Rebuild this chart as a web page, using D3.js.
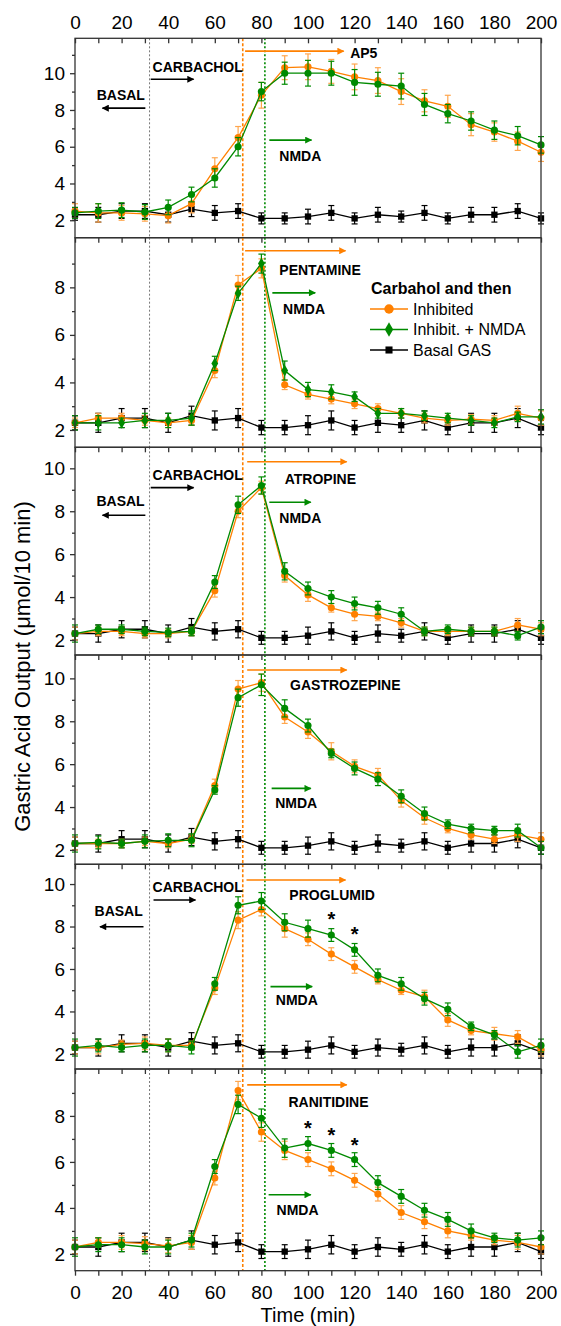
<!DOCTYPE html>
<html>
<head>
<meta charset="utf-8">
<script src="https://cdn.jsdelivr.net/npm/d3@7"></script>
<style>
    body { margin: 0; background: #fff; }
    svg { font-family: "Liberation Sans", Arial, sans-serif; }
    .axis path, .axis line { stroke: #333; stroke-width: 1.3; }
    .axis text { font-size: 19px; fill: #000; font-family: "Liberation Sans", Arial, sans-serif; }
    .ann { font-size: 14px; font-weight: bold; fill: #000; }
</style>
</head>
<body>
<svg id="gastric" width="561" height="1326"></svg>
<script>
// sampling times (min)
const times = [0, 10, 20, 30, 40, 50, 60, 70, 80, 90, 100, 110, 120, 130, 140, 150, 160, 170, 180, 190, 200];

// basal gastric acid secretion, same in every panel
const basal = [2.3, 2.3, 2.5, 2.5, 2.3, 2.6, 2.4, 2.5, 2.1, 2.1, 2.2, 2.4, 2.1, 2.3, 2.2, 2.4, 2.1, 2.3, 2.3, 2.5, 2.1];
const basalErr = [0.3, 0.4, 0.4, 0.4, 0.4, 0.4, 0.4, 0.4, 0.3, 0.3, 0.4, 0.4, 0.3, 0.4, 0.3, 0.4, 0.3, 0.4, 0.4, 0.4, 0.3];

// AP5
const ap5Inh = [2.5, 2.4, 2.4, 2.35, 2.25, 2.9, 4.8, 6.5, 8.8, 10.3, 10.35, 10.1, 9.8, 9.6, 9.0, 8.5, 8.2, 7.2, 6.8, 6.3, 5.7];
const ap5InhErr = [0.4, 0.5, 0.4, 0.4, 0.4, 0.5, 0.6, 0.6, 0.7, 0.65, 0.7, 0.65, 0.7, 0.7, 0.7, 0.6, 0.6, 0.6, 0.5, 0.5, 0.5];
const ap5Nmda = [2.4, 2.5, 2.55, 2.45, 2.7, 3.4, 4.3, 6.0, 9.0, 10.0, 10.0, 10.0, 9.5, 9.4, 9.3, 8.3, 7.8, 7.4, 6.9, 6.6, 6.1];
const ap5NmdaErr = [0.3, 0.4, 0.4, 0.4, 0.4, 0.4, 0.5, 0.5, 0.5, 0.6, 0.7, 0.65, 0.7, 0.65, 0.7, 0.6, 0.5, 0.5, 0.5, 0.5, 0.45];

// PENTAMINE
const pentInh = [2.3, 2.5, 2.5, 2.4, 2.3, 2.4, 4.5, 8.1, 8.8, 3.9, 3.5, 3.3, 3.1, 2.9, 2.7, 2.5, 2.4, 2.45, 2.4, 2.7, 2.5];
const pentInhErr = [0.2, 0.2, 0.2, 0.2, 0.2, 0.2, 0.3, 0.4, 0.4, 0.2, 0.2, 0.2, 0.2, 0.2, 0.2, 0.2, 0.2, 0.2, 0.2, 0.3, 0.3];
const pentNmda = [2.3, 2.3, 2.3, 2.4, 2.4, 2.5, 4.8, 7.75, 9.0, 4.5, 3.7, 3.6, 3.4, 2.7, 2.7, 2.6, 2.5, 2.4, 2.3, 2.55, 2.55];
const pentNmdaErr = [0.3, 0.3, 0.2, 0.3, 0.3, 0.3, 0.3, 0.3, 0.4, 0.4, 0.3, 0.3, 0.2, 0.2, 0.2, 0.2, 0.2, 0.2, 0.2, 0.2, 0.3];

// ATROPINE
const atroInh = [2.3, 2.4, 2.4, 2.3, 2.3, 2.4, 4.3, 8.0, 9.1, 5.0, 4.1, 3.5, 3.2, 3.1, 2.8, 2.4, 2.4, 2.4, 2.4, 2.7, 2.5];
const atroInhErr = [0.3, 0.2, 0.2, 0.2, 0.2, 0.2, 0.3, 0.3, 0.3, 0.3, 0.3, 0.2, 0.3, 0.2, 0.2, 0.2, 0.2, 0.2, 0.2, 0.3, 0.3];
const atroNmda = [2.3, 2.5, 2.5, 2.4, 2.35, 2.4, 4.7, 8.3, 9.2, 5.2, 4.4, 4.0, 3.7, 3.5, 3.2, 2.4, 2.5, 2.4, 2.4, 2.2, 2.6];
const atroNmdaErr = [0.4, 0.2, 0.2, 0.2, 0.2, 0.2, 0.3, 0.4, 0.4, 0.4, 0.3, 0.3, 0.3, 0.3, 0.3, 0.2, 0.2, 0.2, 0.2, 0.2, 0.3];

// GASTROZEPINE
const gastInh = [2.3, 2.3, 2.3, 2.4, 2.3, 2.5, 5.0, 9.5, 9.8, 8.2, 7.5, 6.6, 5.9, 5.5, 4.3, 3.5, 3.0, 2.7, 2.5, 2.7, 2.5];
const gastInhErr = [0.3, 0.2, 0.2, 0.2, 0.2, 0.2, 0.3, 0.4, 0.4, 0.3, 0.3, 0.4, 0.3, 0.3, 0.3, 0.3, 0.2, 0.2, 0.2, 0.3, 0.3];
const gastNmda = [2.3, 2.35, 2.3, 2.4, 2.45, 2.45, 4.8, 9.1, 9.7, 8.6, 7.8, 6.5, 5.8, 5.3, 4.5, 3.7, 3.2, 3.0, 2.9, 2.9, 2.1];
const gastNmdaErr = [0.4, 0.3, 0.2, 0.3, 0.3, 0.3, 0.2, 0.4, 0.5, 0.4, 0.3, 0.2, 0.3, 0.3, 0.3, 0.3, 0.2, 0.2, 0.2, 0.3, 0.3];

// PROGLUMID
const progInh = [2.3, 2.3, 2.45, 2.5, 2.4, 2.4, 5.1, 8.3, 8.8, 7.9, 7.4, 6.7, 6.1, 5.5, 5.0, 4.7, 3.6, 3.1, 2.95, 2.8, 2.2];
const progInhErr = [0.3, 0.3, 0.2, 0.3, 0.3, 0.2, 0.3, 0.4, 0.3, 0.4, 0.3, 0.3, 0.3, 0.2, 0.2, 0.3, 0.3, 0.2, 0.3, 0.3, 0.3];
const progNmda = [2.3, 2.4, 2.3, 2.4, 2.4, 2.3, 5.3, 9.0, 9.2, 8.2, 7.9, 7.6, 6.9, 5.7, 5.3, 4.6, 4.1, 3.3, 2.9, 2.1, 2.4];
const progNmdaErr = [0.4, 0.3, 0.2, 0.3, 0.3, 0.3, 0.3, 0.4, 0.4, 0.4, 0.4, 0.3, 0.3, 0.3, 0.3, 0.3, 0.3, 0.2, 0.2, 0.3, 0.3];

// RANITIDINE
const raniInh = [2.3, 2.5, 2.5, 2.45, 2.35, 2.5, 5.3, 9.1, 7.3, 6.5, 6.1, 5.7, 5.2, 4.6, 3.8, 3.4, 3.0, 2.8, 2.6, 2.5, 2.3];
const raniInhErr = [0.3, 0.2, 0.3, 0.3, 0.3, 0.3, 0.3, 0.4, 0.4, 0.4, 0.3, 0.3, 0.3, 0.3, 0.3, 0.3, 0.3, 0.2, 0.2, 0.3, 0.3];
const raniNmda = [2.3, 2.4, 2.4, 2.3, 2.3, 2.6, 5.8, 8.5, 7.9, 6.6, 6.8, 6.5, 6.1, 5.1, 4.5, 3.9, 3.5, 3.0, 2.7, 2.6, 2.7];
const raniNmdaErr = [0.4, 0.3, 0.3, 0.3, 0.3, 0.3, 0.3, 0.4, 0.4, 0.4, 0.3, 0.3, 0.3, 0.3, 0.3, 0.3, 0.3, 0.3, 0.2, 0.3, 0.3];

const drugNames = ["AP5", "PENTAMINE", "ATROPINE", "GASTROZEPINE", "PROGLUMID", "RANITIDINE"];
const legendTitle = "Carbahol and then";
const legendLabels = ["Inhibited", "Inhibit. + NMDA", "Basal GAS"];
const xTicks = [0, 20, 40, 60, 80, 100, 120, 140, 160, 180, 200];
const xMinorTicks = [10, 30, 50, 70, 90, 110, 130, 150, 170, 190];
const yTicksFull = [2, 4, 6, 8, 10];
const yTicksShort = [2, 4, 6, 8];
const yMinor = [3, 5, 7, 9, 11];
// marker times (min): basal end, inhibitor start, NMDA start
const basalEnd = 32;
const inhibitorStart = 72;
const nmdaStart = 81.5;

const inhSeries = [ap5Inh, pentInh, atroInh, gastInh, progInh, raniInh];
const inhErrs = [ap5InhErr, pentInhErr, atroInhErr, gastInhErr, progInhErr, raniInhErr];
const nmdaSeries = [ap5Nmda, pentNmda, atroNmda, gastNmda, progNmda, raniNmda];
const nmdaErrs = [ap5NmdaErr, pentNmdaErr, atroNmdaErr, gastNmdaErr, progNmdaErr, raniNmdaErr];

(function () {
    const svg = d3.select("svg#gastric");
    const left = 75, right = 541;
    const edges = [38.3, 237.7, 447.3, 655, 864.3, 1069, 1270.7];
    const yDomains = [[1.05, 11.9], [1.27, 10.09], [1.3, 10.98], [1.33, 11.09], [1.29, 10.93], [1.27, 10.04]];
    const orange = "#ff8000", orangeErr = "#ffa64d", green = "#008a00", black = "#000";

    // annotation layout per panel, in data units
    const notes = [
        { drug: [73, 115.3, 11.2, 118.1, 11.09], nmda: [83.4, 101.5, 6.36, 87.7, 5.49],
          carb: [32.5, 50.9, 9.67, 33.3, 10.36], basal: [30.2, 11.8, 8.1, 30, 8.82], stars: [] },
        { drug: [73, 116.1, 9.54, 87.7, 8.73], nmda: [84.7, 103.1, 7.77, 89.3, 7.09], stars: [] },
        { drug: [73.9, 116.6, 10.31, 90, 9.49], nmda: [83.4, 101.2, 8.42, 87.7, 7.67],
          carb: [32.5, 50.9, 9.1, 33.3, 9.69], basal: [30.2, 11.8, 7.81, 29.9, 8.48], stars: [] },
        { drug: [73.9, 116.6, 10.39, 92.3, 9.69], nmda: [84.4, 101.2, 4.87, 85.9, 4.2], stars: [] },
        { drug: [73.6, 116.1, 10.19, 92, 9.48], nmda: [83.9, 101.8, 5.17, 86.2, 4.54],
          carb: [33.7, 51.7, 9.25, 33.3, 9.87], basal: [29.4, 10.7, 7.99, 29.1, 8.73],
          stars: [[110, 8.62], [120, 7.91]] },
        { drug: [73.9, 116.6, 9.35, 91.6, 8.62], nmda: [83.1, 101.2, 4.57, 86.5, 3.91],
          stars: [[100, 7.71], [110, 7.42], [120, 6.96]] }
    ];

    const xScale = d3.scaleLinear().domain([0, 200]).range([left, right]);

    // arrow heads
    const defs = svg.append("defs");
    [["orange", orange], ["green", green], ["black", black]].forEach(([id, c]) => {
        defs.append("marker").attr("id", "head-" + id)
            .attr("viewBox", "0 0 10 10").attr("refX", 9).attr("refY", 5)
            .attr("markerWidth", 9).attr("markerHeight", 7)
            .attr("markerUnits", "userSpaceOnUse").attr("orient", "auto")
            .append("path").attr("d", "M0,0L10,5L0,10Z").attr("fill", c);
    });

    drugNames.forEach((drug, i) => {
        const top = edges[i], bottom = edges[i + 1];
        const y = d3.scaleLinear().domain(yDomains[i]).range([bottom, top]);
        const g = svg.append("g").attr("class", "panel");
        const [lo, hi] = yDomains[i];

        // reference lines
        const vlines = [[basalEnd, "#777", "2,2", 1], [inhibitorStart, orange, "3,2", 1.6], [nmdaStart, green, "2,2", 1.6]];
        g.selectAll("line.vref").data(vlines).join("line").attr("class", "vref")
            .attr("x1", d => xScale(d[0])).attr("x2", d => xScale(d[0]))
            .attr("y1", top).attr("y2", bottom)
            .attr("stroke", d => d[1]).attr("stroke-dasharray", d => d[2]).attr("stroke-width", d => d[3]);

        // annotations
        const n = notes[i];
        const arrow = (spec, color, id) => {
            g.append("line")
                .attr("x1", xScale(spec[0])).attr("x2", xScale(spec[1]))
                .attr("y1", y(spec[2])).attr("y2", y(spec[2]))
                .attr("stroke", color).attr("stroke-width", 1.6)
                .attr("marker-end", `url(#head-${id})`);
        };
        const label = (text, xv, yv, anchor) => {
            g.append("text").attr("class", "ann")
                .attr("x", xScale(xv)).attr("y", y(yv)).attr("dy", "0.36em")
                .attr("text-anchor", anchor || "start").text(text);
        };
        arrow(n.drug, orange, "orange");
        label(drug, n.drug[3], n.drug[4]);
        arrow(n.nmda, green, "green");
        label("NMDA", n.nmda[3], n.nmda[4]);
        if (n.carb) {
            arrow(n.carb, black, "black");
            label("CARBACHOL", n.carb[3], n.carb[4]);
        }
        if (n.basal) {
            arrow(n.basal, black, "black");
            label("BASAL", n.basal[3], n.basal[4], "end");
        }
        g.selectAll("text.star").data(n.stars).join("text").attr("class", "star")
            .attr("x", d => xScale(d[0])).attr("y", d => y(d[1])).attr("dy", "0.62em")
            .attr("text-anchor", "middle").attr("font-size", 20).attr("font-weight", "bold")
            .text("*");

        // series
        const series = [
            { vals: basal, errs: basalErr, color: black, errColor: black, shape: d3.symbolSquare, size: 40 },
            { vals: inhSeries[i], errs: inhErrs[i], color: orange, errColor: orangeErr, shape: d3.symbolCircle, size: 40 },
            { vals: nmdaSeries[i], errs: nmdaErrs[i], color: green, errColor: green,
              shape: i === 1 ? d3.symbolDiamond : d3.symbolCircle, size: 40 }
        ];
        series.forEach(s => {
            const pts = times.map((t, k) => ({ t: t, v: s.vals[k], e: s.errs[k] }));
            const sg = g.append("g");
            sg.selectAll("line.err").data(pts).join("line").attr("class", "err")
                .attr("x1", d => xScale(d.t)).attr("x2", d => xScale(d.t))
                .attr("y1", d => y(d.v - d.e)).attr("y2", d => y(d.v + d.e))
                .attr("stroke", s.errColor).attr("stroke-width", 1.2);
            [-1, 1].forEach(sign => {
                sg.selectAll("line.cap" + sign).data(pts).join("line")
                    .attr("x1", d => xScale(d.t) - 3).attr("x2", d => xScale(d.t) + 3)
                    .attr("y1", d => y(d.v + sign * d.e)).attr("y2", d => y(d.v + sign * d.e))
                    .attr("stroke", s.errColor).attr("stroke-width", 1.2);
            });
            sg.append("path").datum(pts)
                .attr("fill", "none").attr("stroke", s.color).attr("stroke-width", 1.3)
                .attr("d", d3.line().x(d => xScale(d.t)).y(d => y(d.v)));
            sg.selectAll("path.mk").data(pts).join("path").attr("class", "mk")
                .attr("transform", d => `translate(${xScale(d.t)},${y(d.v)})`)
                .attr("d", d3.symbol().type(s.shape).size(s.size))
                .attr("fill", s.color);
        });

        // frame
        g.append("rect").attr("x", left).attr("y", top)
            .attr("width", right - left).attr("height", bottom - top)
            .attr("fill", "none").attr("stroke", "#333").attr("stroke-width", 1.3);

        // y axis
        const yt = (hi - lo) < 9 ? yTicksShort : yTicksFull;
        g.append("g").attr("class", "axis")
            .attr("transform", `translate(${left},0)`)
            .call(d3.axisLeft(y).tickValues(yt).tickSize(5).tickPadding(5).tickSizeOuter(0).tickFormat(d3.format("d")))
            .call(a => a.select(".domain").remove());
        g.append("g").attr("class", "axis")
            .attr("transform", `translate(${left},0)`)
            .call(d3.axisLeft(y).tickValues(yMinor.filter(v => v > lo + 0.1 && v < hi - 0.15)).tickSize(3).tickFormat(""))
            .call(a => a.select(".domain").remove());

        // x ticks (bottom of each panel)
        g.append("g").attr("class", "axis")
            .attr("transform", `translate(0,${bottom})`)
            .call(d3.axisBottom(xScale).tickValues(xTicks.concat(xMinorTicks)).tickSize(5).tickPadding(10)
                .tickFormat(i === 5 ? (d => xTicks.includes(d) ? d : "") : ""))
            .call(a => a.select(".domain").remove());

        if (i === 0) {
            g.append("g").attr("class", "axis")
                .attr("transform", `translate(0,${top})`)
                .call(d3.axisTop(xScale).tickValues(xTicks.concat(xMinorTicks)).tickSize(-5).tickPadding(9)
                    .tickFormat(d => xTicks.includes(d) ? d : ""))
                .call(a => a.select(".domain").remove());
        }

        // legend in the PENTAMINE panel
        if (i === 1) {
            const lg = svg.append("g").attr("transform", "translate(371,0)");
            lg.append("text").attr("x", 0).attr("y", 288.5).attr("dy", "0.36em")
                .attr("font-size", 16).attr("font-weight", "bold").text(legendTitle);
            const items = [[orange, d3.symbolCircle, 70], [green, d3.symbolDiamond, 60], [black, d3.symbolSquare, 50]];
            const rows = [309, 329.5, 350];
            legendLabels.forEach((lab, k) => {
                const row = lg.append("g").attr("transform", `translate(0,${rows[k]})`);
                row.append("line").attr("x1", -1).attr("x2", 37).attr("stroke", items[k][0]).attr("stroke-width", 1.3);
                row.append("path").attr("transform", "translate(18,0)")
                    .attr("d", d3.symbol().type(items[k][1]).size(items[k][2])).attr("fill", items[k][0]);
                row.append("text").attr("x", 42).attr("dy", "0.36em").attr("font-size", 16).text(lab);
            });
        }
    });

    // axis titles
    svg.append("text")
        .attr("transform", `translate(22,${(edges[0] + edges[6]) / 2 + 12}) rotate(-90)`)
        .attr("text-anchor", "middle").attr("dy", "0.36em").attr("font-size", 22)
        .text("Gastric Acid Output (\u03bcmol/10 min)");
    svg.append("text")
        .attr("x", (left + right) / 2).attr("y", 1315).attr("dy", "0.36em")
        .attr("text-anchor", "middle").attr("font-size", 20)
        .text("Time (min)");
})();
</script>
</body>
</html>
